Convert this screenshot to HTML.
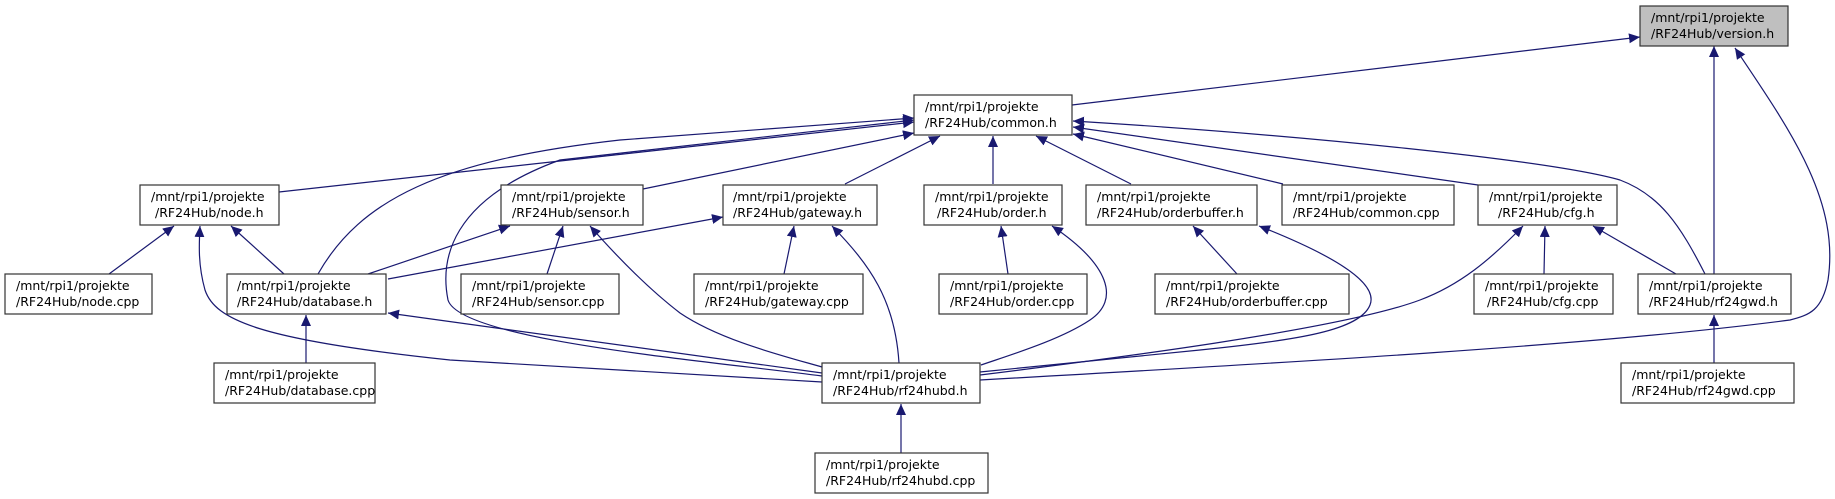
<!DOCTYPE html>
<html><head><meta charset="utf-8"><style>
html,body{margin:0;padding:0;background:#fff;}
svg{display:block;}
text{font-family:"DejaVu Sans","Liberation Sans",sans-serif;font-size:12.5px;fill:#000;}
.b{fill:#fff;stroke:#333;stroke-width:1.2;}
.e{fill:none;stroke:#191970;stroke-width:1.2;marker-end:url(#a);}
</style></head><body>
<svg width="1835" height="499" viewBox="0 0 1835 499" xmlns="http://www.w3.org/2000/svg">
<defs><marker id="a" markerUnits="userSpaceOnUse" markerWidth="12" markerHeight="11" refX="11" refY="5" orient="auto"><path d="M0,0 L11,5 L0,10 z" fill="#191970"/></marker></defs>

<!-- edges -->
<path class="e" d="M1072,105 L1640,37"/>
<path class="e" d="M1714,274 L1714,46"/>
<path class="e" d="M980,380 C1300,362 1600,345 1790,320 C1810,315 1822,310 1828,280 C1840,200 1790,130 1735,48"/>
<path class="e" d="M279,192 L914,122"/>
<path class="e" d="M318,274 C360,200 440,160 620,140 L914,118"/>
<path class="e" d="M822,376 C700,360 460,340 448,300 C440,260 450,200 560,160 L914,120"/>
<path class="e" d="M643,189 L914,133"/>
<path class="e" d="M845,184 L940,136"/>
<path class="e" d="M993,184 L993,136"/>
<path class="e" d="M1131,184 L1036,136"/>
<path class="e" d="M1283,184 L1073,134"/>
<path class="e" d="M1478,185 L1073,127"/>
<path class="e" d="M1705,274 C1680,225 1660,195 1620,180 C1550,160 1300,135 1073,121"/>
<path class="e" d="M822,382 L450,360 C260,340 215,320 205,290 C198,265 199,245 200,226"/>
<path class="e" d="M109,274 L174,226"/>
<path class="e" d="M284,274 L231,226"/>
<path class="e" d="M368,274 L510,226"/>
<path class="e" d="M547,274 L563,226"/>
<path class="e" d="M822,367 C780,355 720,340 680,313 C650,290 620,260 590,226"/>
<path class="e" d="M388,279 L723,217"/>
<path class="e" d="M784,274 L794,226"/>
<path class="e" d="M899,363 C895,300 870,265 832,226"/>
<path class="e" d="M1008,274 L1001,226"/>
<path class="e" d="M981,365 C1010,355 1060,340 1090,320 C1120,300 1110,265 1052,226"/>
<path class="e" d="M1237,274 L1193,226"/>
<path class="e" d="M980,372 L1200,350 C1300,340 1360,330 1370,305 C1380,280 1320,250 1259,226"/>
<path class="e" d="M980,375 C1100,360 1340,330 1420,300 C1460,285 1490,260 1523,226"/>
<path class="e" d="M1544,274 L1545,226"/>
<path class="e" d="M1676,274 L1593,226"/>
<path class="e" d="M822,373 L388,313"/>
<path class="e" d="M306,363 L306,315"/>
<path class="e" d="M1714,363 L1714,315"/>
<path class="e" d="M901,453 L901,404"/>

<!-- nodes -->
<rect x="1640" y="6" width="148" height="40" fill="#bfbfbf" stroke="#333" stroke-width="1.2"/>
<text x="1651" y="22">/mnt/rpi1/projekte</text><text x="1651" y="38">/RF24Hub/version.h</text>

<rect class="b" x="914" y="95" width="158" height="40"/>
<text x="925" y="111">/mnt/rpi1/projekte</text><text x="925" y="127">/RF24Hub/common.h</text>

<rect class="b" x="140" y="185" width="139" height="40"/>
<text x="151" y="201">/mnt/rpi1/projekte</text><text x="155" y="217">/RF24Hub/node.h</text>

<rect class="b" x="501" y="185" width="142" height="40"/>
<text x="512" y="201">/mnt/rpi1/projekte</text><text x="512" y="217">/RF24Hub/sensor.h</text>

<rect class="b" x="723" y="185" width="154" height="40"/>
<text x="733" y="201">/mnt/rpi1/projekte</text><text x="733" y="217">/RF24Hub/gateway.h</text>

<rect class="b" x="924" y="185" width="138" height="40"/>
<text x="935" y="201">/mnt/rpi1/projekte</text><text x="937" y="217">/RF24Hub/order.h</text>

<rect class="b" x="1086" y="185" width="171" height="40"/>
<text x="1097" y="201">/mnt/rpi1/projekte</text><text x="1097" y="217">/RF24Hub/orderbuffer.h</text>

<rect class="b" x="1282" y="185" width="172" height="40"/>
<text x="1293" y="201">/mnt/rpi1/projekte</text><text x="1293" y="217">/RF24Hub/common.cpp</text>

<rect class="b" x="1478" y="185" width="139" height="40"/>
<text x="1489" y="201">/mnt/rpi1/projekte</text><text x="1498" y="217">/RF24Hub/cfg.h</text>

<rect class="b" x="5" y="274" width="147" height="40"/>
<text x="16" y="290">/mnt/rpi1/projekte</text><text x="16" y="306">/RF24Hub/node.cpp</text>

<rect class="b" x="227" y="274" width="159" height="40"/>
<text x="237" y="290">/mnt/rpi1/projekte</text><text x="237" y="306">/RF24Hub/database.h</text>

<rect class="b" x="461" y="274" width="158" height="40"/>
<text x="472" y="290">/mnt/rpi1/projekte</text><text x="472" y="306">/RF24Hub/sensor.cpp</text>

<rect class="b" x="694" y="274" width="169" height="40"/>
<text x="705" y="290">/mnt/rpi1/projekte</text><text x="705" y="306">/RF24Hub/gateway.cpp</text>

<rect class="b" x="939" y="274" width="148" height="40"/>
<text x="950" y="290">/mnt/rpi1/projekte</text><text x="950" y="306">/RF24Hub/order.cpp</text>

<rect class="b" x="1155" y="274" width="194" height="40"/>
<text x="1166" y="290">/mnt/rpi1/projekte</text><text x="1166" y="306">/RF24Hub/orderbuffer.cpp</text>

<rect class="b" x="1474" y="274" width="139" height="40"/>
<text x="1485" y="290">/mnt/rpi1/projekte</text><text x="1487" y="306">/RF24Hub/cfg.cpp</text>

<rect class="b" x="1638" y="274" width="153" height="40"/>
<text x="1649" y="290">/mnt/rpi1/projekte</text><text x="1649" y="306">/RF24Hub/rf24gwd.h</text>

<rect class="b" x="214" y="363" width="161" height="40"/>
<text x="225" y="379">/mnt/rpi1/projekte</text><text x="225" y="395">/RF24Hub/database.cpp</text>

<rect class="b" x="822" y="363" width="158" height="40"/>
<text x="833" y="379">/mnt/rpi1/projekte</text><text x="833" y="395">/RF24Hub/rf24hubd.h</text>

<rect class="b" x="1621" y="363" width="173" height="40"/>
<text x="1632" y="379">/mnt/rpi1/projekte</text><text x="1632" y="395">/RF24Hub/rf24gwd.cpp</text>

<rect class="b" x="815" y="453" width="173" height="40"/>
<text x="826" y="469">/mnt/rpi1/projekte</text><text x="826" y="485">/RF24Hub/rf24hubd.cpp</text>
</svg>
</body></html>
